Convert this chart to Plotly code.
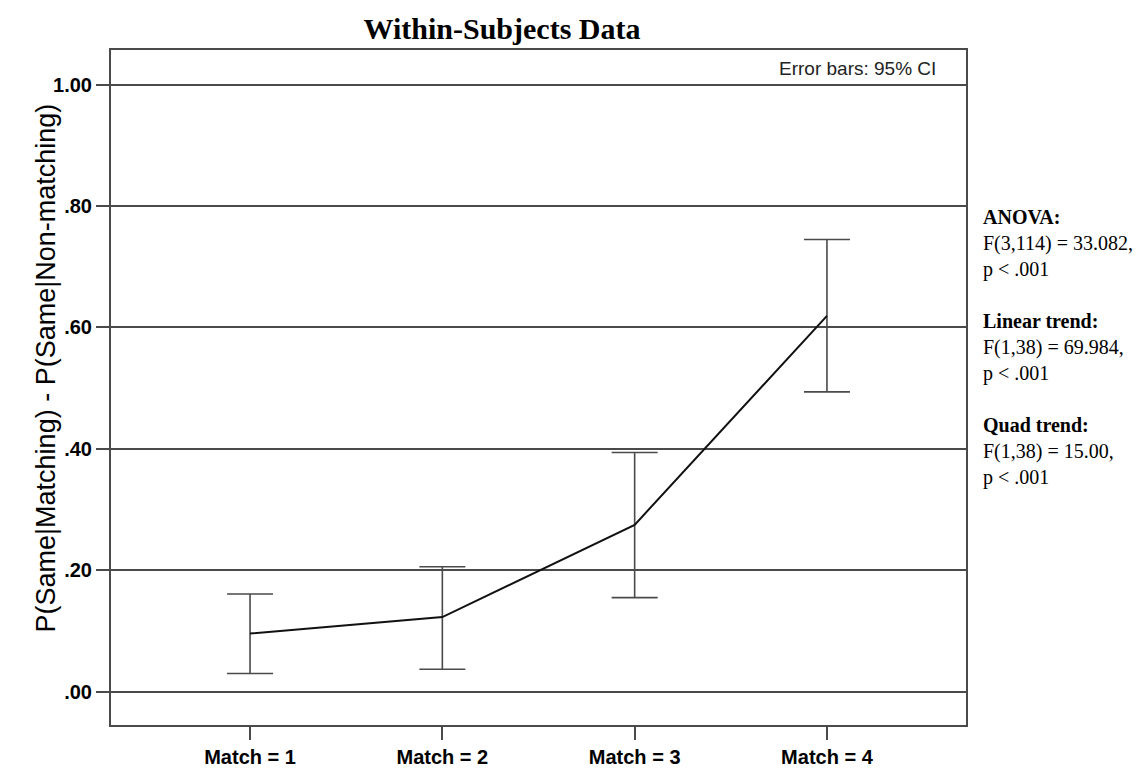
import plotly.graph_objects as go

# --- data ---
categories = ["Match = 1", "Match = 2", "Match = 3", "Match = 4"]
means = [0.096, 0.123, 0.275, 0.619]
ci_upper = [0.161, 0.206, 0.394, 0.745]
ci_lower = [0.030, 0.037, 0.155, 0.494]

y_ticks = [0.0, 0.2, 0.4, 0.6, 0.8, 1.0]
y_ticklabels = [".00", ".20", ".40", ".60", ".80", "1.00"]

stats_text = (
    "<b>ANOVA:</b><br>F(3,114) = 33.082,<br>p < .001<br><br>"
    "<b>Linear trend:</b><br>F(1,38) = 69.984,<br>p < .001<br><br>"
    "<b>Quad trend:</b><br>F(1,38) = 15.00,<br>p < .001"
)

x_pos = list(range(len(categories)))
err_plus = [u - m for u, m in zip(ci_upper, means)]
err_minus = [m - l for m, l in zip(means, ci_lower)]

SANS = "Liberation Sans, Arial, sans-serif"
SERIF = "Liberation Serif, Times New Roman, serif"
LINE = "#4a4a4a"

fig = go.Figure(go.Scatter(
    x=x_pos,
    y=means,
    mode="lines",
    line=dict(color="#111111", width=2),
    error_y=dict(
        type="data",
        symmetric=False,
        array=err_plus,
        arrayminus=err_minus,
        color=LINE,
        thickness=1.6,
        width=23,
    ),
    showlegend=False,
    hoverinfo="skip",
))

fig.update_layout(
    width=1145,
    height=772,
    plot_bgcolor="white",
    paper_bgcolor="white",
    margin=dict(l=103, r=187, t=42, b=39),
    title=dict(
        text="<b>Within-Subjects Data</b>",
        font=dict(family=SERIF, size=30, color="black"),
        xref="container", x=494 / 1145, xanchor="center",
        yref="container", y=1 - 20 / 772, yanchor="middle",
    ),
)

fig.update_xaxes(
    range=[-0.723, 3.723],
    tickvals=x_pos,
    ticktext=categories,
    tickfont=dict(family=SANS, size=20, color="black", weight="bold"),
    ticks="outside", ticklen=13, tickwidth=2, tickcolor=LINE,
    showgrid=False, zeroline=False,
    showline=True, linecolor=LINE, linewidth=2, mirror=True,
)
fig.update_yaxes(
    range=[-0.0547, 1.057],
    tickvals=y_ticks,
    ticktext=y_ticklabels,
    tickfont=dict(family=SANS, size=20, color="black", weight="bold"),
    ticks="outside", ticklen=13, tickwidth=2, tickcolor=LINE,
    showgrid=True, gridcolor=LINE, gridwidth=1.6,
    zeroline=False,
    showline=True, linecolor=LINE, linewidth=2, mirror=True,
)

# y axis title, sits a touch above the plot centre in the reference
fig.add_annotation(
    text="P(Same|Matching) - P(Same|Non-matching)",
    textangle=-90,
    xref="paper", x=(38 - 103) / 855, xanchor="center",
    yref="paper", y=(733 - 368) / 691, yanchor="middle",
    showarrow=False,
    font=dict(family=SANS, size=27, color="black"),
)

fig.add_annotation(
    text="Error bars: 95% CI",
    xref="paper", x=(930 - 103) / 855, xanchor="right",
    yref="paper", y=(733 - 61) / 691, yanchor="middle",
    showarrow=False,
    font=dict(family=SANS, size=19, color="#222222"),
)

fig.add_annotation(
    text=stats_text,
    align="left",
    xref="paper", x=(973 - 103) / 855, xanchor="left",
    yref="paper", y=(733 - 200) / 691, yanchor="top",
    showarrow=False,
    font=dict(family=SERIF, size=20, color="black"),
)

fig.write_html("out.html")
